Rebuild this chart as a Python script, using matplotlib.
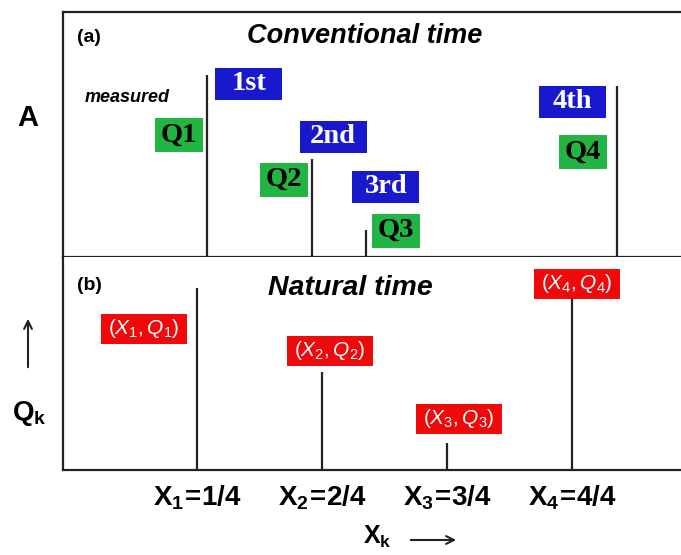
import matplotlib.pyplot as plt

plt.rcParams['font.family'] = 'Liberation Sans'
plt.rcParams['mathtext.fontset'] = 'custom'
plt.rcParams['mathtext.rm'] = 'Liberation Sans'
plt.rcParams['mathtext.it'] = 'Liberation Sans:italic'
plt.rcParams['mathtext.bf'] = 'Liberation Sans:bold'

# events in conventional time and their energies Q_k
t_conv = [2.33, 4.03, 4.90, 8.96]
Q = [1.0, 0.54, 0.15, 0.94]
order_labels = ['1st', '2nd', '3rd', '4th']
q_labels = ['Q1', 'Q2', 'Q3', 'Q4']

# natural time chi_k = k/N for N = 4
chi = [1/4, 2/4, 3/4, 4/4]
chi_labels = [r'$\mathbf{X}_{\mathbf{%d}}\!\mathbf{=}\!\mathbf{%d/4}$' % (k, k) for k in range(1, 5)]
pair_labels = [r'$(\mathit{X}_%d,\mathit{Q}_%d)$' % (k, k) for k in range(1, 5)]

W, H, DPI = 681, 555, 100
INK = '#222222'
BLUE = '#1818cc'
GREEN = '#22b543'
RED = '#ee0a0a'

fig = plt.figure(figsize=(W / DPI, H / DPI), dpi=DPI)
renderer = fig.canvas.get_renderer()


def fpos(x, y):
    # pixel position (from top-left) -> figure fraction
    return x / W, 1 - y / H


def tag(ax, s, xy, off, fc, tc, w, h, **kw):
    # text label in a fixed-size box, placed at an offset from a stem top
    t = ax.annotate(s, xy=xy, xytext=off, textcoords='offset pixels',
                    ha='center', va='center', color=tc, **kw)
    bb = t.get_window_extent(renderer)
    fs = t.get_size() * DPI / 72
    padx = max((w - bb.width) / 2, 0.5)
    pady = max((h - bb.height) / 2, 0.05)
    t.set_bbox(dict(boxstyle='square,pad=%.4f' % (padx / fs), fc=fc, ec='none',
                    mutation_aspect=pady / padx))
    return t


# (a) conventional time
ax1 = fig.add_axes([63 / W, (H - 257) / H, 1 - 63 / W, 245 / H])
ax1.vlines(t_conv, 0, Q, color=INK, lw=1.6)
ax1.set_xlim(0, 10)
ax1.set_ylim(0, 1.346)

serif = dict(family='Liberation Serif', fontweight='bold', fontsize=20.5)
order_off = [(42, -9), (21, 22), (20, 43), (-44, -16)]
q_off = [(-28, -60), (-28, -21), (30, -1), (-34, -66)]
for t, q, s, o in zip(t_conv, Q, order_labels, order_off):
    tag(ax1, s, (t, q), o, BLUE, 'white', 67, 32, **serif)
for t, q, s, o in zip(t_conv, Q, q_labels, q_off):
    tag(ax1, s, (t, q), o, GREEN, 'black', 48, 34, **serif)

# (b) natural time
ax2 = fig.add_axes([63 / W, (H - 470) / H, 1 - 63 / W, 213 / H])
ax2.vlines(chi, 0, Q, color=INK, lw=1.6)
ax2.set_xlim(-0.018, 1.218)
ax2.set_ylim(0, 1.17)
ax2.set_xticks(chi, chi_labels, fontsize=20)
ax2.tick_params(axis='x', length=0, pad=10, colors='black')

pair_off = [(-53, -41), (8, 21), (12, 24), (5, 15)]
for x, q, s, o in zip(chi, Q, pair_labels, pair_off):
    tag(ax2, s, (x, q), o, RED, 'white', 86, 30, fontsize=15)

for ax in (ax1, ax2):
    ax.set_yticks([])
    ax.spines['right'].set_visible(False)
    for sp in ('left', 'top', 'bottom'):
        ax.spines[sp].set_linewidth(1.6)
        ax.spines[sp].set_color(INK)
ax1.set_xticks([])
ax2.spines['top'].set_visible(False)

# panel titles and side labels
fig.text(*fpos(77, 38), '(a)', fontsize=14, fontweight='bold', va='center')
fig.text(*fpos(77, 286), '(b)', fontsize=14, fontweight='bold', va='center')
fig.text(*fpos(365, 36), 'Conventional time', fontsize=19.5, fontweight='bold',
         style='italic', ha='center', va='center')
fig.text(*fpos(350, 288), 'Natural time', fontsize=20.5, fontweight='bold',
         style='italic', ha='center', va='center')
fig.text(*fpos(85, 98), 'measured', fontsize=13, fontweight='bold',
         style='italic', va='center')
fig.text(*fpos(28, 118), 'A', fontsize=21, fontweight='bold', ha='center', va='center')
fig.text(*fpos(29, 420), r'$\mathbf{Q}_{\mathbf{k}}$', fontsize=20, ha='center', va='baseline')
fig.text(*fpos(377, 544), r'$\mathbf{X}_{\mathbf{k}}$', fontsize=18, ha='center', va='baseline')

arrow = dict(arrowstyle='->', color=INK, lw=1.5, mutation_scale=14)
fig.add_artist(plt.Annotation('', xy=fpos(28, 316), xytext=fpos(28, 370),
                              xycoords='figure fraction', arrowprops=arrow))
fig.add_artist(plt.Annotation('', xy=fpos(459, 540), xytext=fpos(408, 540),
                              xycoords='figure fraction', arrowprops=arrow))

fig.savefig('out.png', dpi=DPI)
